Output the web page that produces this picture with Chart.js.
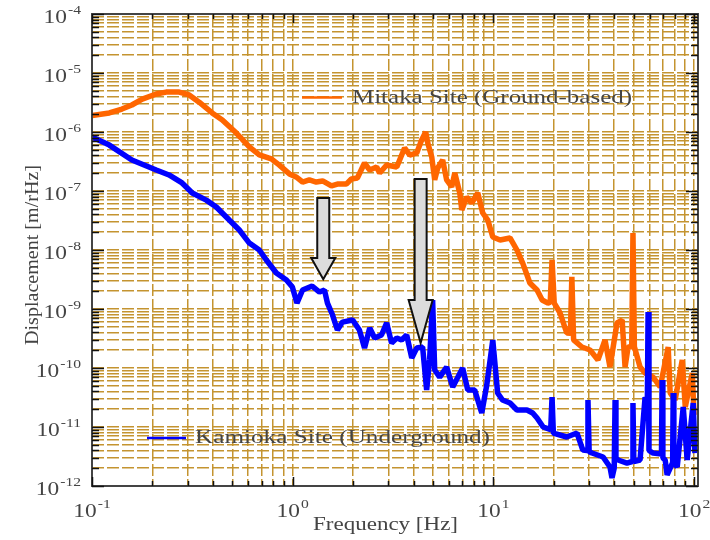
<!DOCTYPE html>
<html>
<head>
<meta charset="utf-8">
<script src="https://cdn.jsdelivr.net/npm/chart.js@4.4.1/dist/chart.umd.min.js"></script>
<style>
  html, body { margin: 0; padding: 0; background: #fff; }
  #chart { display: block; }
</style>
</head>
<body>
<canvas id="chart" width="710" height="540"></canvas>
<script>
/* ---- data ---- */
const mitakaFreq = [0.1, 0.122, 0.141, 0.158, 0.178, 0.209, 0.234, 0.272, 0.305, 0.342, 0.397, 0.446, 0.524,
  0.608, 0.682, 0.783, 0.858, 0.963, 1.04, 1.12, 1.21, 1.31, 1.41, 1.56, 1.67, 1.85, 1.96, 2.10, 2.28, 2.42,
  2.62, 2.71, 2.94, 3.30, 3.61, 3.83, 4.15, 4.39, 4.60, 4.71, 4.93, 5.10, 5.28, 5.59, 5.85, 6.20, 6.42, 6.80,
  6.96, 7.36, 7.80, 8.36, 8.85, 9.38, 9.93, 10.8, 12.1, 13.1, 14.0, 15.2, 16.5, 17.5, 18.7, 19.2, 19.6, 20.1,
  21.5, 23.2, 24.2, 24.6, 25.1, 27.6, 30.3, 33.2, 36.0, 38.1, 41.3, 43.8, 45.3, 46.9, 48.9, 49.6, 50.4, 53.8,
  57.0, 62.5, 67.8, 74.3, 76.0, 80.5, 87.3, 90.4, 97.9, 100];
const mitakaDisp = [1.9e-6, 2.1e-6, 2.45e-6, 2.87e-6, 3.6e-6, 4.4e-6, 4.75e-6, 4.75e-6, 4.25e-6, 3.2e-6, 2.1e-6,
  1.6e-6, 9.6e-7, 5.6e-7, 4.1e-7, 3.5e-7, 2.75e-7, 1.95e-7, 1.73e-7, 1.42e-7, 1.54e-7, 1.42e-7, 1.48e-7,
  1.22e-7, 1.31e-7, 1.31e-7, 1.6e-7, 1.66e-7, 2.98e-7, 2.27e-7, 2.55e-7, 2.02e-7, 2.76e-7, 2.55e-7, 5.36e-7,
  4.07e-7, 4.41e-7, 7.3e-7, 1.0e-6, 6.5e-7, 3.77e-7, 1.54e-7, 2.45e-7, 3.35e-7, 1.54e-7, 1.17e-7, 2.02e-7,
  9.25e-8, 4.76e-8, 7.9e-8, 6.26e-8, 9.25e-8, 4.24e-8, 3.22e-8, 1.66e-8, 1.48e-8, 1.6e-8, 1.0e-8, 6.0e-9,
  2.76e-9, 2.1e-9, 1.42e-9, 1.26e-9, 1.3e-9, 6.8e-9, 1.26e-9, 8.55e-10, 3.92e-10, 3.9e-10, 3.5e-9, 3.0e-10,
  2.27e-10, 2.02e-10, 1.37e-10, 2.98e-10, 1.04e-10, 5.8e-10, 6.5e-10, 1.04e-10, 2.27e-10, 2.3e-10, 1.94e-8,
  2.3e-10, 1.04e-10, 8.2e-11, 7.0e-11, 4.76e-11, 2.27e-10, 3.77e-11, 2.87e-11, 1.37e-10, 2.18e-11, 8.2e-11,
  1.6e-11];

const kamiokaFreq = [0.1, 0.122, 0.158, 0.209, 0.242, 0.281, 0.316, 0.371, 0.416, 0.483, 0.542, 0.608, 0.682,
  0.739, 0.829, 0.931, 0.996, 1.05, 1.12, 1.25, 1.36, 1.44, 1.49, 1.58, 1.67, 1.77, 1.99, 2.15, 2.28, 2.42,
  2.56, 2.77, 2.94, 3.11, 3.30, 3.49, 3.70, 3.92, 4.15, 4.44, 4.65, 4.81, 4.98, 5.10, 5.40, 5.85, 6.27, 7.03,
  7.45, 8.07, 8.75, 9.27, 9.93, 10.5, 11.1, 12.1, 13.1, 14.7, 15.7, 16.5, 17.7, 19.3, 19.6, 19.9, 23.2, 26.1,
  27.9, 29.3, 29.6, 30.0, 31.0, 35.2, 38.1, 39.0, 40.0, 40.4, 40.8, 41.8, 46.3, 49.2, 49.6, 50.1, 53.8, 57.0,
  58.5, 59.0, 59.6, 62.5, 68.8, 69.3, 69.9, 71.8, 73.4, 78.2, 78.7, 79.3, 82.4, 88.3, 92.4, 99.0, 101];
const kamiokaDisp = [8.2e-7, 6.0e-7, 3.35e-7, 2.27e-7, 1.87e-7, 1.37e-7, 9.25e-8, 7.0e-8, 5.36e-8, 3.22e-8,
  2.18e-8, 1.31e-8, 1.0e-8, 6.77e-9, 4.07e-9, 3.1e-9, 2.36e-9, 1.26e-9, 2.1e-9, 2.45e-9, 1.94e-9, 2.1e-9,
  1.26e-9, 7.9e-10, 4.41e-10, 6.0e-10, 6.5e-10, 4.41e-10, 2.18e-10, 4.76e-10, 3.22e-10, 3.62e-10, 5.8e-10,
  2.65e-10, 3.22e-10, 2.98e-10, 3.62e-10, 1.48e-10, 2.18e-10, 2.27e-10, 4.24e-11, 1.37e-10, 1.42e-9, 9.25e-11,
  7.0e-11, 1.04e-10, 4.76e-11, 1.0e-10, 4.24e-11, 4.24e-11, 1.73e-11, 5.15e-11, 2.98e-10, 3.77e-11, 2.87e-11,
  2.55e-11, 1.94e-11, 1.94e-11, 1.73e-11, 1.42e-11, 1.0e-11, 9.0e-12, 3.22e-11, 7.9e-12, 6.77e-12, 7.9e-12,
  4.07e-12, 4.0e-12, 2.87e-11, 3.8e-12, 3.62e-12, 3.1e-12, 2.1e-12, 1.37e-12, 2.0e-12, 2.87e-11, 3.0e-12,
  2.76e-12, 2.45e-12, 2.6e-12, 2.55e-11, 2.6e-12, 2.76e-12, 3.2e-11, 2.5e-11, 8.9e-10, 4.0e-12, 3.62e-12,
  3.5e-12, 6.26e-11, 3.0e-12, 2.76e-12, 1.54e-12, 2.5e-12, 3.77e-11, 2.5e-12, 2.1e-12, 2.18e-11, 2.76e-12,
  2.55e-11, 3.62e-12];

const seriesLabels = ['Mitaka Site (Ground-based)', 'Kamioka Site (Underground)'];
const xExponents = [-1, 0, 1, 2];
const yExponents = [-12, -11, -10, -9, -8, -7, -6, -5, -4];

// the two grey arrows: frequency, top of shaft, base of head, tip
const arrows = [
  { f: 1.42, top: 7.6e-8, head: 7.3e-9, tip: 3.2e-9 },
  { f: 4.34, top: 1.6e-7, head: 1.42e-9, tip: 2.65e-10 }
];

/* ---- helpers ---- */
const SERIF = "'Liberation Serif', 'Times New Roman', serif";
const TEXT = '#444';
const GRID = 'rgb(196,148,48)';

// 1..9 x 10^e for every decade, the last decade only its 1
function logGrid(exps) {
  const vals = [];
  exps.forEach((e, i) => {
    const last = i === exps.length - 1 ? 1 : 9;
    for (let m = 1; m <= last; m++) vals.push(m * Math.pow(10, e));
  });
  return vals;
}
const isDecade = v => Math.abs(Math.log10(v) - Math.round(Math.log10(v))) < 1e-9;

// text squeezed/stretched horizontally by sx (the picture is wide)
function stretchText(ctx, text, x, y, sx) {
  ctx.save();
  ctx.translate(x, y);
  ctx.scale(sx, 1);
  ctx.textAlign = 'left';
  ctx.fillText(text, 0, 0);
  ctx.restore();
}
function fitText(ctx, text, x, y, width) {
  stretchText(ctx, text, x, y, width / ctx.measureText(text).width);
}

function powerLabel(ctx, exp, x, y, anchor) {
  const sx = 1.3;
  ctx.font = '18px ' + SERIF;
  const wBase = ctx.measureText('10').width * sx;
  ctx.font = '12px ' + SERIF;
  const sup = String(exp);
  const wSup = ctx.measureText(sup).width * sx;
  const total = wBase + 1 + wSup;
  const x0 = anchor === 'right' ? x - total : x - total / 2;
  ctx.font = '18px ' + SERIF;
  stretchText(ctx, '10', x0, y, sx);
  ctx.font = '12px ' + SERIF;
  stretchText(ctx, sup, x0 + wBase + 1, y - 9, sx);
}

const decorPlugin = {
  id: 'decor',
  afterDatasetsDraw(chart) {
    const ctx = chart.ctx;
    const xs = chart.scales.x, ys = chart.scales.y;
    ctx.save();
    ctx.fillStyle = '#dcdcdc';
    ctx.strokeStyle = '#111';
    ctx.lineWidth = 2;
    ctx.lineJoin = 'miter';
    arrows.forEach(a => {
      const x = xs.getPixelForValue(a.f);
      const yTop = ys.getPixelForValue(a.top);
      const yHead = ys.getPixelForValue(a.head);
      const yTip = ys.getPixelForValue(a.tip);
      ctx.beginPath();
      ctx.moveTo(x - 6, yTop);
      ctx.lineTo(x + 6, yTop);
      ctx.lineTo(x + 6, yHead);
      ctx.lineTo(x + 12, yHead);
      ctx.lineTo(x, yTip);
      ctx.lineTo(x - 12, yHead);
      ctx.lineTo(x - 6, yHead);
      ctx.closePath();
      ctx.fill();
      ctx.stroke();
    });
    ctx.restore();
  },
  afterDraw(chart) {
    const ctx = chart.ctx;
    const { left, right, top, bottom } = chart.chartArea;
    const xs = chart.scales.x, ys = chart.scales.y;
    ctx.save();

    // frame
    ctx.strokeStyle = '#444';
    ctx.lineWidth = 2;
    ctx.strokeRect(left, top, right - left, bottom - top);

    // inward tick marks on all four sides
    ctx.strokeStyle = '#111';
    ctx.lineWidth = 1.5;
    ctx.beginPath();
    xs.ticks.forEach(t => {
      const px = Math.round(xs.getPixelForValue(t.value)) + 0.5;
      const len = isDecade(t.value) ? 9 : 5;
      ctx.moveTo(px, bottom); ctx.lineTo(px, bottom - len);
      ctx.moveTo(px, top); ctx.lineTo(px, top + len);
    });
    ys.ticks.forEach(t => {
      const py = Math.round(ys.getPixelForValue(t.value)) + 0.5;
      const len = isDecade(t.value) ? 12 : 7;
      ctx.moveTo(left, py); ctx.lineTo(left + len, py);
      ctx.moveTo(right, py); ctx.lineTo(right - len, py);
    });
    ctx.stroke();

    // tick labels 10^n
    ctx.fillStyle = TEXT;
    xExponents.forEach(e => {
      powerLabel(ctx, e, xs.getPixelForValue(Math.pow(10, e)), 517, 'center');
    });
    yExponents.forEach(e => {
      powerLabel(ctx, e, 81, ys.getPixelForValue(Math.pow(10, e)) + 9, 'right');
    });

    // axis titles
    ctx.font = '18px ' + SERIF;
    fitText(ctx, 'Frequency [Hz]', 313, 530, 145);
    ctx.save();
    ctx.translate(38, 345);
    ctx.rotate(-Math.PI / 2);
    fitText(ctx, 'Displacement [m/rHz]', 0, 0, 180);
    ctx.restore();

    // in-plot legend
    const legend = [
      { x1: 302, x2: 342, y: 97.5, tx: 352, ty: 103, w: 280 },
      { x1: 147, x2: 186, y: 438, tx: 195, ty: 443, w: 295 }
    ];
    legend.forEach((l, i) => {
      ctx.strokeStyle = chart.data.datasets[i].borderColor;
      ctx.lineWidth = 2.5;
      ctx.beginPath();
      ctx.moveTo(l.x1, l.y);
      ctx.lineTo(l.x2, l.y);
      ctx.stroke();
      ctx.fillStyle = TEXT;
      fitText(ctx, seriesLabels[i], l.tx, l.ty, l.w);
    });
    ctx.restore();
  }
};

/* ---- chart ---- */
const toPoints = (fs, vs) => fs.map((f, i) => ({ x: f, y: vs[i] }));

const xGrid = logGrid(xExponents);
const yGrid = logGrid(yExponents);

const gridOpts = { color: GRID, lineWidth: 1.5, drawTicks: false };
const borderOpts = { display: false, dash: [12, 3] };

new Chart(document.getElementById('chart'), {
  type: 'line',
  data: {
    datasets: [
      {
        label: seriesLabels[0],
        data: toPoints(mitakaFreq, mitakaDisp),
        borderColor: '#ff6600',
        order: 2
      },
      {
        label: seriesLabels[1],
        data: toPoints(kamiokaFreq, kamiokaDisp),
        borderColor: '#0000ff',
        order: 1
      }
    ]
  },
  options: {
    responsive: false,
    animation: false,
    events: [],
    layout: { padding: { left: 92, right: 12, top: 14, bottom: 54 } },
    elements: {
      line: { borderWidth: 5.5, tension: 0, borderJoinStyle: 'bevel', fill: false },
      point: { radius: 0 }
    },
    plugins: { legend: { display: false }, tooltip: { enabled: false } },
    scales: {
      x: {
        type: 'logarithmic',
        min: 0.1,
        max: 104.6,
        afterBuildTicks: s => { s.ticks = xGrid.map(v => ({ value: v })); },
        ticks: { display: false },
        grid: gridOpts,
        border: borderOpts
      },
      y: {
        type: 'logarithmic',
        min: 1e-12,
        max: 1e-4,
        afterBuildTicks: s => { s.ticks = yGrid.map(v => ({ value: v })); },
        ticks: { display: false },
        grid: gridOpts,
        border: borderOpts
      }
    }
  },
  plugins: [decorPlugin]
});
</script>
</body>
</html>
